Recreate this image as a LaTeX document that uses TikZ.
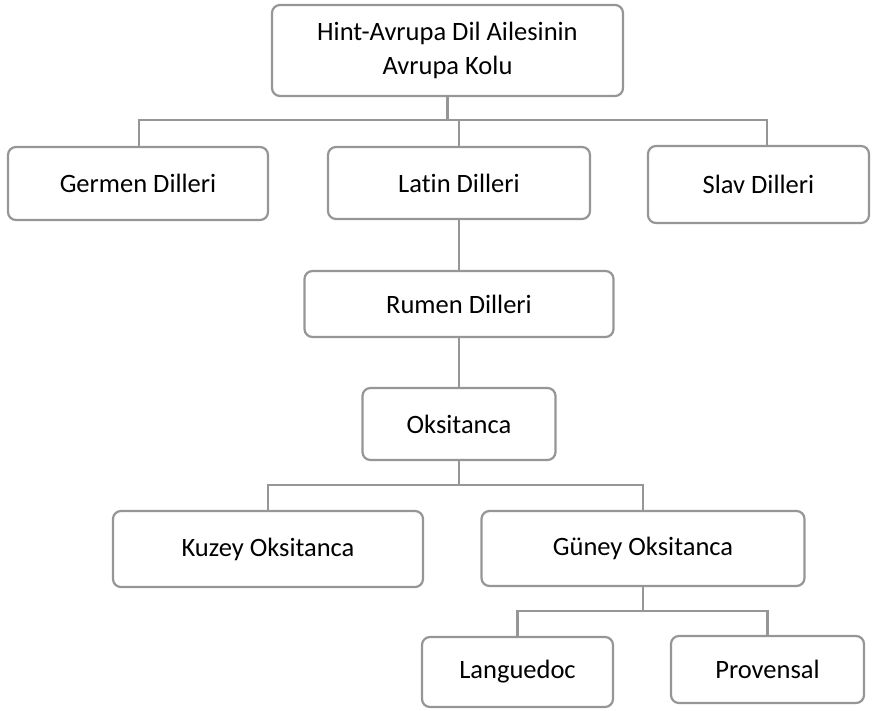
\documentclass[tikz,border=0pt]{standalone}
\usepackage{fontspec}
\setmainfont{Carlito}[Ligatures=NoCommon]
\definecolor{boxgray}{RGB}{150,150,150}
\begin{document}
\begin{tikzpicture}[x=1pt,y=-1pt,
  box/.style={draw=boxgray, line width=2.2pt, rounded corners=8pt, fill=white,
    font=\fontsize{26.5}{34}\selectfont, align=center, inner sep=0pt,
    minimum width=#1},
  conn/.style={draw=boxgray, line width=2.8pt}]
\useasboundingbox (0,0) rectangle (878,711);
\node[box=351pt, minimum height=91pt] (top) at (447.5,50.5) {Hint-Avrupa Dil Ailesinin\\Avrupa Kolu};
\node[box=260pt, minimum height=73pt] (germ) at (138,183.5) {Germen Dilleri};
\node[box=262pt, minimum height=72pt] (latin) at (459,183) {Latin Dilleri};
\node[box=221pt, minimum height=77pt] (slav) at (758.5,184.5) {Slav Dilleri};
\node[box=309pt, minimum height=66pt] (rumen) at (459,304) {Rumen Dilleri};
\node[box=193pt, minimum height=72pt] (oks) at (459,424) {Oksitanca};
\node[box=310pt, minimum height=76pt] (kuzey) at (268,549) {Kuzey Oksitanca};
\node[box=323pt, minimum height=75pt] (guney) at (643,548.5) {Güney Oksitanca};
\node[box=191pt, minimum height=70pt] (lang) at (517.5,672) {Languedoc};
\node[box=193pt, minimum height=67pt] (prov) at (767.5,669.5) {Provensal};
\coordinate (bL) at (139,120);
\coordinate (bR) at (767,120);
\coordinate (cL) at (268,485);
\coordinate (cR) at (643,485);
\coordinate (dL) at (517.5,611);
\coordinate (dR) at (767.5,611);
\draw[conn] (top.south) -- (top.south |- bL);
\draw[conn] (bL |- germ.north) -- (bL) -- (bR) -- (bR |- slav.north);
\draw[conn] (latin.north) -- (latin.north |- bL);
\draw[conn] (latin.south) -- (rumen.north);
\draw[conn] (rumen.south) -- (oks.north);
\draw[conn] (oks.south) -- (oks.south |- cL);
\draw[conn] (kuzey.north) -- (cL) -- (cR) -- (guney.north);
\draw[conn] (guney.south) -- (guney.south |- dL);
\draw[conn] (lang.north) -- (dL) -- (dR) -- (prov.north);
\end{tikzpicture}
\end{document}
